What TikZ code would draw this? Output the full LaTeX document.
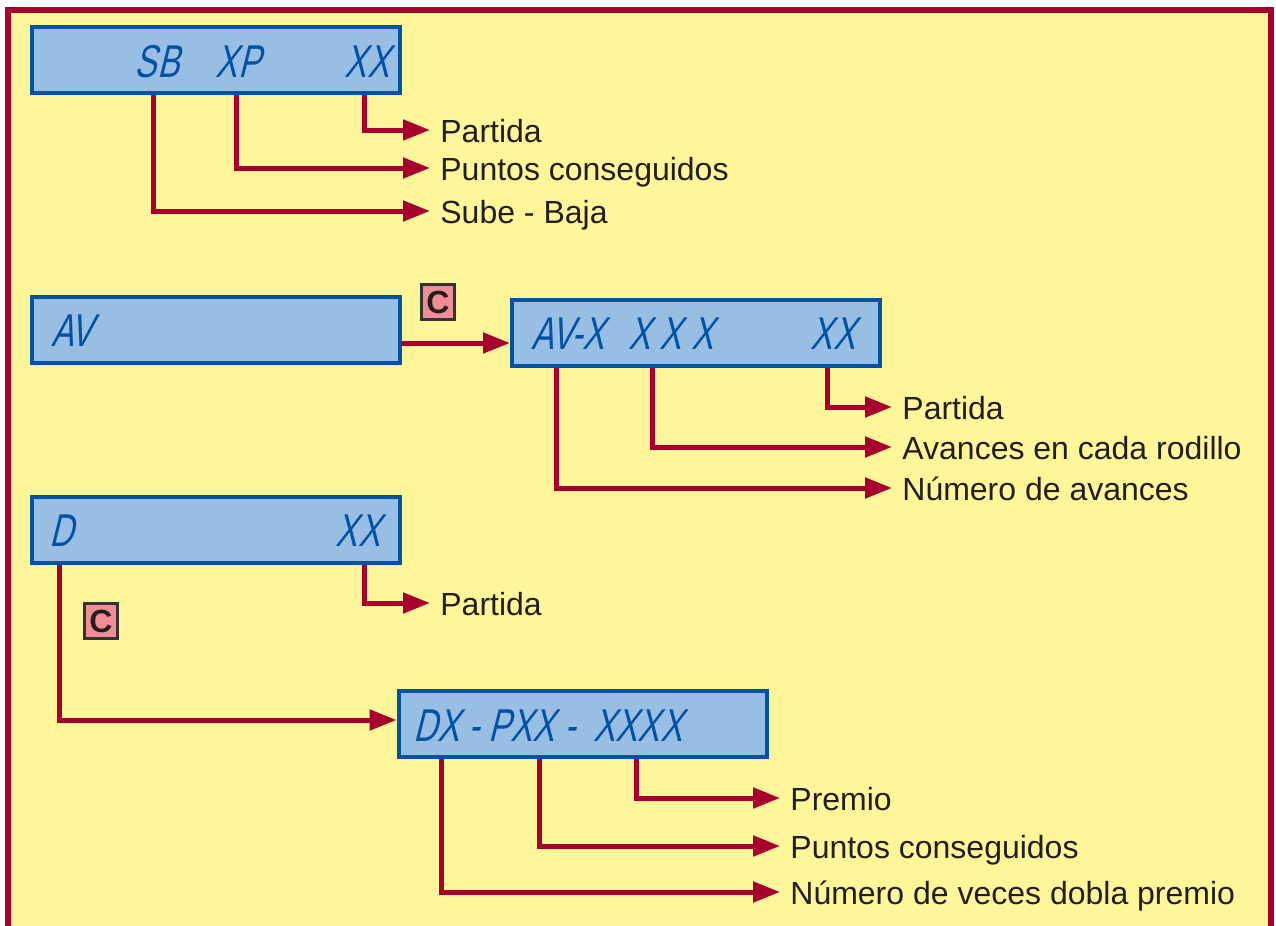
\documentclass[tikz,border=0pt]{standalone}
\usepackage{fontspec}
\setmainfont{Liberation Sans}
\newfontfamily\lcdfont[FakeStretch=0.72,FakeSlant=0.25]{Liberation Sans}
\usepackage{tikz}
\usetikzlibrary{arrows.meta,positioning}

\definecolor{panelyellow}{RGB}{255,245,153}
\definecolor{framered}{RGB}{168,0,46}
\definecolor{lcdblue}{RGB}{0,82,164}
\definecolor{lcdfill}{RGB}{153,190,228}
\definecolor{keypink}{RGB}{242,140,150}
\definecolor{labelgray}{RGB}{35,31,32}

\tikzset{
  lcd/.style={ draw=lcdblue, fill=lcdfill, line width=2pt, minimum width=184pt, minimum height=33pt, inner sep=0pt }
}
\tikzset{
  lcdtxt/.style={ text=lcdblue, font=\lcdfont\fontsize{23}{23}\selectfont, inner sep=0pt }
}
\tikzset{
  keyC/.style={ draw=black!80, fill=keypink, line width=1.2pt, minimum width=16.5pt, minimum height=17.5pt, inner sep=0pt, font=\bfseries\fontsize{16}{16}\selectfont, text=labelgray }
}
\tikzset{
  lbl/.style={ anchor=west, inner xsep=5pt, inner ysep=0pt, text height=12.5pt, text depth=0pt, text=labelgray, font=\fontsize{16}{19}\selectfont }
}
\tikzset{
  link/.style={ draw=framered, line width=2.5pt, -{Triangle[length=13.5pt,width=10pt]} }
}

\begin{document}
\begin{tikzpicture}[x=0.5pt,y=-0.5pt]
      \useasboundingbox (0,0) rectangle (1276,926);
      \clip (0,0) rectangle (1276,926);
      \fill[white] (0,0) rectangle (1276,926);
      \draw[framered, line width=3pt, fill=panelyellow] (8,9.5) rectangle (1271,960);

      % SB XP XX
      \node[lcd] (sbdisp) at (216,60) {};
      \node[lcdtxt] (sbtxt) at (157,62) {SB};
      \node[lcdtxt] (xptxt) at (238,62) {XP};
      \node[lcdtxt] (xxtxt) at (367,62) {XX};
      \node[lbl] (partida1) at (430,130) {Partida};
      \node[lbl] (puntos1) at (430,168) {Puntos conseguidos};
      \node[lbl] (subebaja) at (430,211) {Sube - Baja};

      \draw[link] (sbdisp.south -| 364,0) |- (partida1.west);
      \draw[link] (sbdisp.south -| 236,0) |- (puntos1.west);
      \draw[link] (sbdisp.south -| 153,0) |- (subebaja.west);

      % AV -> AV-X
      \node[lcd] (avdisp) at (216,330) {};
      \node[lcdtxt] (avtxt) at (72,331) {AV};
      \node[lcd] (avxdisp) at (696,332.5) {};
      \node[lcdtxt] (avxtxt) at (568,334) {AV-X};
      \node[lcdtxt] (rodtxt) at (671,334) {X X X};
      \node[lcdtxt] (avxxtxt) at (833,334) {XX};
      \node[keyC] (keyav) at (438,302) {C};
      \node[lbl] (partida2) at (892,407) {Partida};
      \node[lbl] (avances) at (892,447) {Avances en cada rodillo};
      \node[lbl] (numav) at (892,488) {Número de avances};

      \draw[link] (avdisp.east |- 0,343) -- (avxdisp.west |- 0,343);
      \draw[link] (avxdisp.south -| 827,0) |- (partida2.west);
      \draw[link] (avxdisp.south -| 652,0) |- (avances.west);
      \draw[link] (avxdisp.south -| 556,0) |- (numav.west);

      % D -> DX - PXX - XXXX
      \node[lcd] (ddisp) at (216,529.5) {};
      \node[lcdtxt] (dtxt) at (61,531) {D};
      \node[lcdtxt] (dxxtxt) at (358,531) {XX};
      \node[lbl] (partida3) at (430,603) {Partida};
      \node[keyC] (keyd) at (101,621) {C};
      \node[lcd] (dxdisp) at (582.5,724) {};
      \node[lcdtxt, anchor=west] (dxtxt) at (413,726) {DX - PXX -\ \ XXXX};
      \node[lbl] (premio) at (780,798) {Premio};
      \node[lbl] (puntos2) at (780,846) {Puntos conseguidos};
      \node[lbl] (dobla) at (780,892) {Número de veces dobla premio};

      \draw[link] (ddisp.south -| 364,0) |- (partida3.west);
      \draw[link] (ddisp.south -| 59,0) |- (dxdisp.west |- 0,720);
      \draw[link] (dxdisp.south -| 636,0) |- (premio.west);
      \draw[link] (dxdisp.south -| 539,0) |- (puntos2.west);
      \draw[link] (dxdisp.south -| 441,0) |- (dobla.west);
\end{tikzpicture}
\end{document}
